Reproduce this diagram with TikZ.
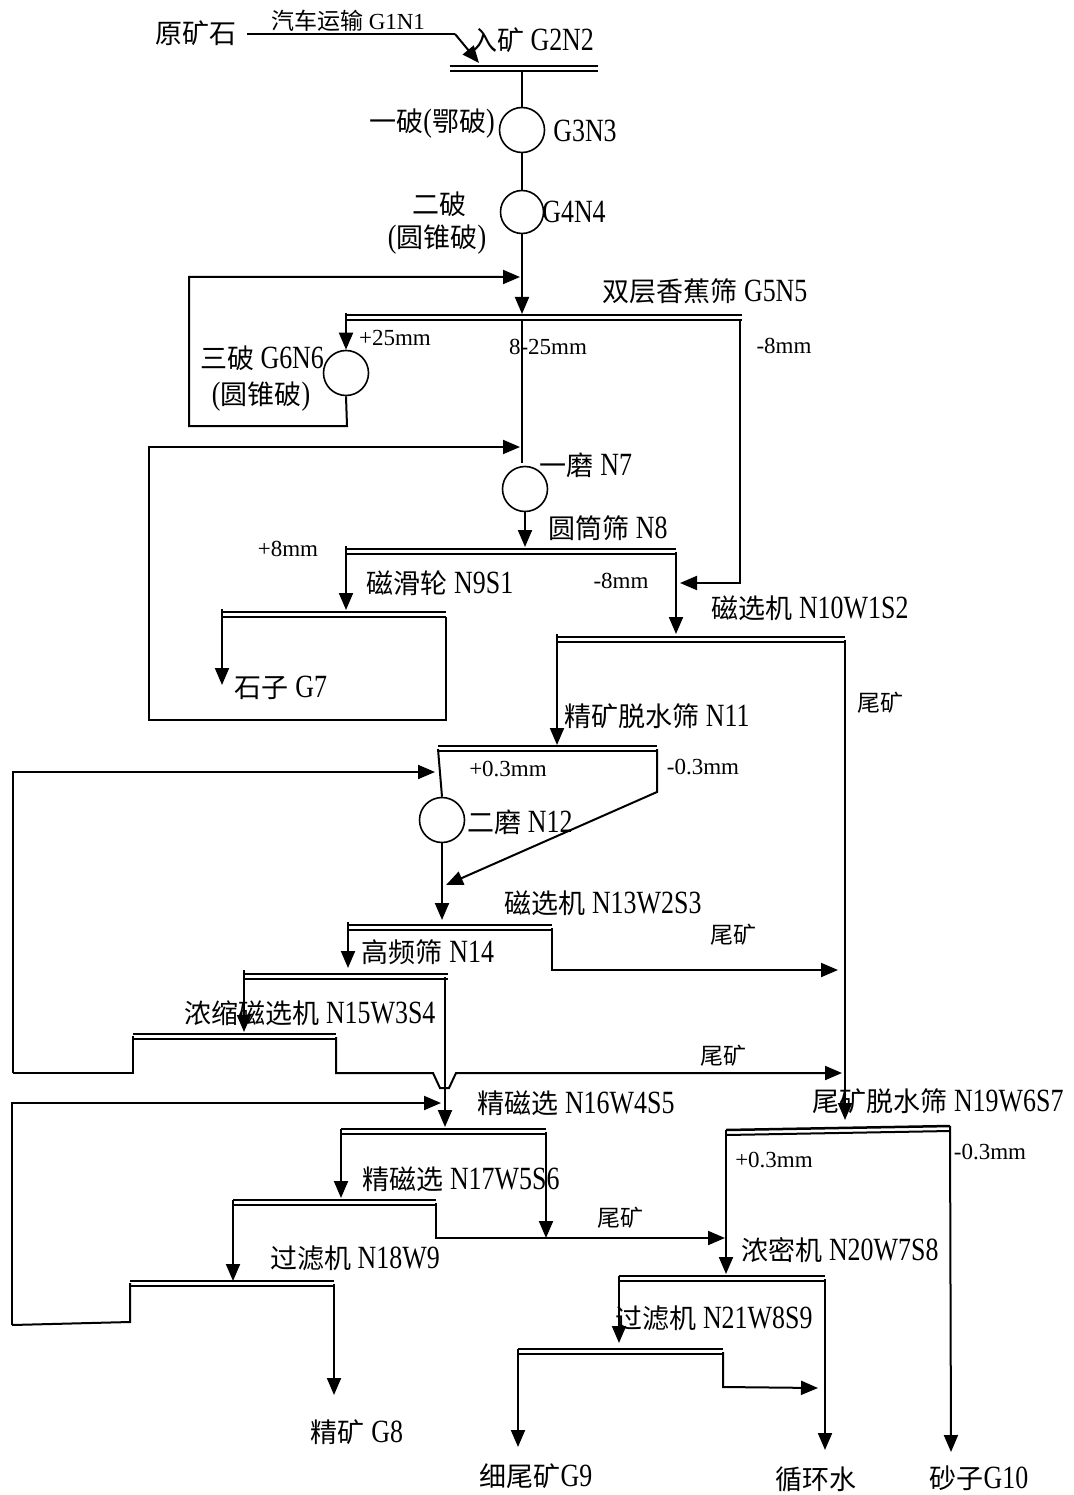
\documentclass[tikz,border=0pt]{standalone}
\usepackage{fontspec}
\setmainfont{Liberation Serif}[Scale=1.2,FakeStretch=0.8]
\newfontfamily\smfont{Liberation Serif}
\newfontfamily\cjk{Noto Sans CJK SC}
\usetikzlibrary{arrows.meta}
\newcommand\zh[1]{{\cjk #1}}
\newcommand\mkscreen[4]{%
  \coordinate (#1-l) at (#2,#4);
  \coordinate (#1-r) at (#3,#4);
  \draw[scrtop] (#2,#4) -- (#3,#4);
  \draw[scrbot] (#2,#4+5) -- (#3,#4+5);}
\tikzset{
  lb/.style={inner sep=0pt, font=\fontsize{27}{30}\selectfont},
  sl/.style={inner sep=0pt, font=\fontsize{23}{25}\smfont},
  ln/.style={line width=2pt},
  arr/.style={ln, -{Triangle[length=17pt,width=14pt]}},
  scrtop/.style={line width=2.5pt},
  scrbot/.style={line width=2pt},
  mill/.style={circle, draw, line width=1.6pt, minimum size=45pt, inner sep=0pt},
}
\begin{document}
\begin{tikzpicture}[x=1pt,y=-1pt]
\fill[white] (0,0) rectangle (1073,1495);
\useasboundingbox (0,0) rectangle (1073,1495);

% ---------- mills ----------
\node[mill] (m1) at (522,130) {};
\node[mill,minimum size=43pt] (m2) at (522,212) {};
\node[mill] (m3) at (346,373) {};
\node[mill] (m4) at (525,489) {};
\node[mill] (m5) at (442,820) {};

% ---------- screens ----------
\mkscreen{s0}{450}{598}{66}
\mkscreen{s5}{346}{742}{315}
\mkscreen{s8}{346}{676}{549}
\mkscreen{s9}{222}{446}{612}
\mkscreen{s10}{557}{845}{637}
\mkscreen{s11}{438}{657}{746}
\mkscreen{s13}{348}{552}{925}
\mkscreen{s14}{244}{448}{974}
\mkscreen{s15}{133}{336}{1034}
\mkscreen{s16}{341}{546}{1129}
\mkscreen{s17}{233}{436}{1200}
\mkscreen{s18}{130}{334}{1281}
\mkscreen{s20}{619}{825}{1276}
\mkscreen{s21}{518}{723}{1349}
\coordinate (s19-l) at (726,1130);
\coordinate (s19-r) at (950,1126);
\draw[scrtop] (s19-l) -- (s19-r);
\draw[scrbot] (726,1135) -- (950,1131);

% ---------- labels ----------
\node[lb] (t1) at (196,33) {\zh{原矿石}};
\node[sl] (t2) at (348,21) {\zh{汽车运输} G1N1};
\node[lb] (t3) at (532,40) {\zh{入矿} G2N2};
\node[lb] (t4) at (432,124) {\zh{一破}(\zh{鄂破})};
\node[lb] (t5) at (585,131) {G3N3};
\node[lb] (t6) at (439,204) {\zh{二破}};
\node[lb] (t7) at (437,240) {(\zh{圆锥破})};
\node[lb] (t8) at (574,212) {G4N4};
\node[lb] (t9) at (705,291) {\zh{双层香蕉筛} G5N5};
\node[sl] (t10) at (395,338) {+25mm};
\node[sl] (t11) at (548,347) {8-25mm};
\node[sl] (t12) at (784,346) {-8mm};
\node[lb] (t13) at (262,358) {\zh{三破} G6N6};
\node[lb] (t14) at (261,397) {(\zh{圆锥破})};
\node[lb] (t15) at (586,465) {\zh{一磨} N7};
\node[lb] (t16) at (608,528) {\zh{圆筒筛} N8};
\node[sl] (t17) at (288,549) {+8mm};
\node[lb] (t18) at (440,583) {\zh{磁滑轮} N9S1};
\node[sl] (t19) at (621,581) {-8mm};
\node[lb] (t20) at (810,608) {\zh{磁选机} N10W1S2};
\node[lb] (t21) at (281,688) {\zh{石子} G7};
\node[sl] (t22) at (880,703) {\zh{尾矿}};
\node[lb] (t23) at (657,716) {\zh{精矿脱水筛} N11};
\node[sl] (t24) at (508,769) {+0.3mm};
\node[sl] (t25) at (703,767) {-0.3mm};
\node[lb] (t26) at (520,822) {\zh{二磨} N12};
\node[lb] (t27) at (603,903) {\zh{磁选机} N13W2S3};
\node[sl] (t28) at (733,935) {\zh{尾矿}};
\node[lb] (t29) at (428,952) {\zh{高频筛} N14};
\node[lb] (t30) at (310,1013) {\zh{浓缩磁选机} N15W3S4};
\node[sl] (t31) at (723,1056) {\zh{尾矿}};
\node[lb] (t32) at (576,1103) {\zh{精磁选} N16W4S5};
\node[lb] (t33) at (938,1101) {\zh{尾矿脱水筛} N19W6S7};
\node[sl] (t34) at (774,1160) {+0.3mm};
\node[sl] (t35) at (990,1152) {-0.3mm};
\node[lb] (t36) at (461,1179) {\zh{精磁选} N17W5S6};
\node[sl] (t37) at (620,1218) {\zh{尾矿}};
\node[lb] (t38) at (355,1258) {\zh{过滤机} N18W9};
\node[lb] (t39) at (840,1250) {\zh{浓密机} N20W7S8};
\node[lb] (t40) at (714,1318) {\zh{过滤机} N21W8S9};
\node[lb] (t41) at (357,1432) {\zh{精矿} G8};
\node[lb] (t42) at (536,1476) {\zh{细尾矿}G9};
\node[lb] (t43) at (816,1479) {\zh{循环水}};
\node[lb] (t44) at (979,1478) {\zh{砂子}G10};

% ---------- connectors ----------
\coordinate (feedbend) at (455,34);
\draw[ln] (247,34) -- (feedbend);
\draw[arr] (feedbend) -- (479,63);
\draw[ln] (522,71) -- (m1.north);
\draw[ln] (m1.south) -- (m2.north);
\draw[arr] (m2.south) -- (522,314);

\draw[arr] (s5-l) ++(0,-2) -- (m3.north);
\draw[arr] (m3.south) -- (347,426) -- (189,426) -- (189,277) -- (520,277);
\draw[ln] (522,320) -- (522,463);
\draw[arr] (740,320) -- (740,583) -- (680,583);

\draw[arr] (446,617) -- (446,720) -- (149,720) -- (149,447) -- (520,447);
\draw[arr] (m4.south) -- (525,547);
\draw[arr] (s8-l) ++(0,-3) -- (346,610);
\draw[arr] (676,552) -- (676,634);
\draw[arr] (s9-l) ++(0,-3) -- (222,685);
\draw[arr] (s10-l) ++(0,-3) -- (557,745);
\draw[arr] (845,640) -- (845,1120);

\draw[ln] (438,749) -- (m5.north);
\draw[arr] (657,749) -- (657,792) -- (446,885);
\draw[arr] (13,1073) -- (13,772) -- (435,772);
\draw[arr] (m5.south) -- (442,920);

\draw[arr] (s13-l) ++(0,-3) -- (348,968);
\draw[arr] (552,928) -- (552,970) -- (838,970);
\draw[arr] (s14-l) ++(0,-4) -- (244,1032);
\draw[arr] (445,977) -- (445,1127);
\draw[ln] (13,1073) -- (133,1073) -- (133,1036);
\draw[arr] (336,1037) -- (336,1073) -- (433,1073) -- (440,1088) -- (449,1088) -- (456,1073) -- (842,1073);

\draw[arr] (12,1325) -- (12,1103) -- (441,1103);
\draw[ln] (12,1325) -- (130,1322) -- (130,1283);
\draw[arr] (s16-l) -- (341,1198);
\draw[arr] (546,1132) -- (546,1238);
\draw[arr] (s17-l) -- (233,1281);
\draw[arr] (436,1203) -- (436,1238) -- (725,1238);
\draw[arr] (334,1284) -- (334,1395);

\draw[arr] (s19-l) -- (726,1274);
\draw[arr] (s19-r) -- (951,1452);
\draw[arr] (s20-l) -- (619,1343);
\draw[arr] (825,1279) -- (825,1450);
\draw[arr] (s21-l) -- (518,1447);
\draw[arr] (723,1352) -- (723,1387) -- (818,1388);
\end{tikzpicture}
\end{document}
